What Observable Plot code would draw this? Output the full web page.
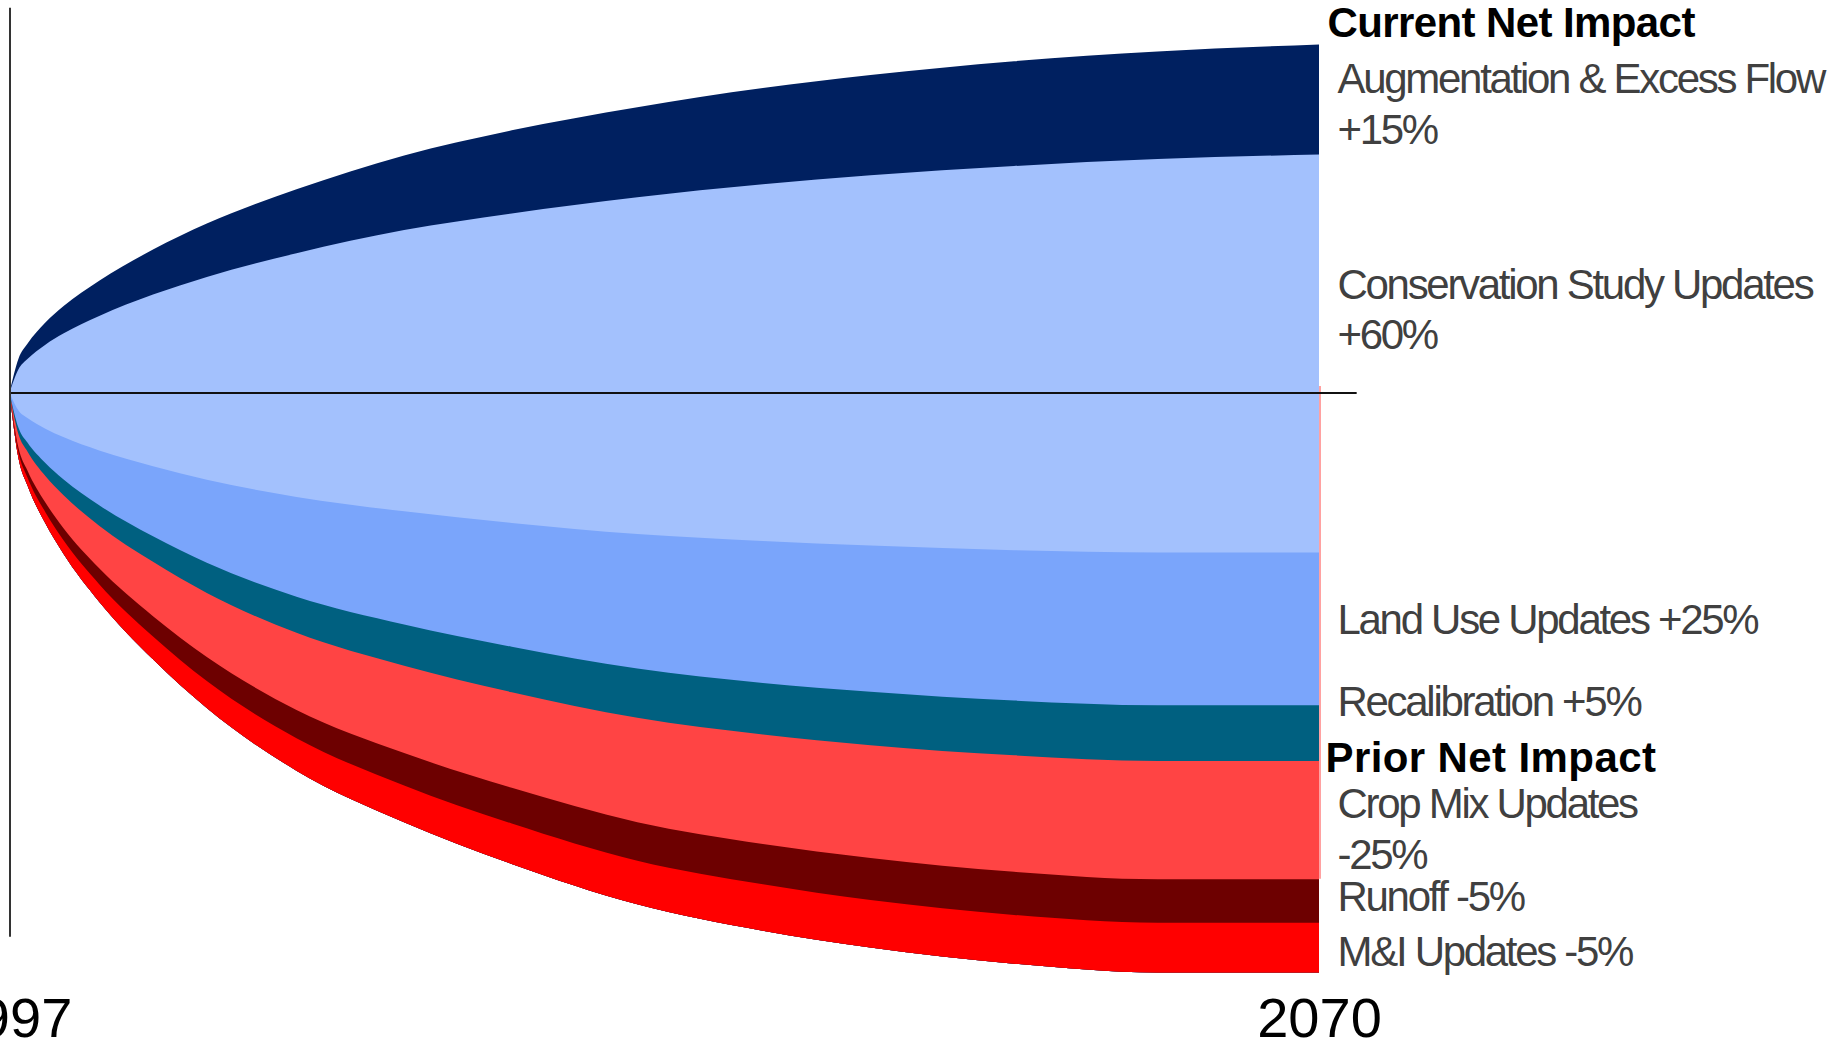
<!DOCTYPE html>
<html>
<head>
<meta charset="utf-8">
<script src="https://cdn.jsdelivr.net/npm/d3@7"></script>
<script src="https://cdn.jsdelivr.net/npm/@observablehq/plot@0.6"></script>
<style>
html, body { margin: 0; padding: 0; background: #fff; overflow: hidden; }
#chart svg { display: block; }
#chart g[font-size="42"] { letter-spacing: -2.3px; }
#chart g[font-size="42"][font-weight="bold"] { letter-spacing: -0.6px; }
</style>
</head>
<body>
<div id="chart"></div>
<script>
// ---- data (percent-like units) ----
const years = [1997, 1997.5, 1998, 1999, 2000, 2002, 2005, 2008, 2013, 2019, 2025, 2032, 2039, 2045, 2053, 2061, 2070];

// upper edge of each layer, from the top layer down, plus the bottom of the stack
const augmentationTop  = [0, 7.3, 10.5, 15.1, 18.6, 24.1, 30.8, 36.4, 43.8, 51.1, 56.5, 61.5, 65.6, 68.4, 71.4, 73.5, 75.0];
const conservationTop  = [0, 5.0, 7.2, 10.3, 12.7, 16.5, 21.1, 24.9, 30.0, 35.0, 38.6, 42.1, 44.9, 46.8, 48.8, 50.3, 51.3];
const landUseTop       = [0, -3.9, -5.5, -7.8, -9.6, -12.5, -15.9, -18.8, -22.5, -25.6, -28.1, -30.5, -32.0, -33.0, -34.0, -34.5, -34.5];
const recalibrationTop = [0, -7.6, -10.8, -15.2, -18.7, -24.3, -31.0, -36.7, -44.0, -50.0, -54.8, -59.5, -62.6, -64.5, -66.4, -67.4, -67.4];
const cropMixTop       = [0, -9.0, -12.7, -18.0, -22.1, -28.7, -36.5, -43.2, -51.8, -58.9, -64.6, -70.1, -73.7, -76.0, -78.2, -79.4, -79.4];
const runoffTop        = [0, -11.9, -16.8, -23.7, -29.2, -37.9, -48.2, -57.0, -68.4, -77.7, -85.2, -92.6, -97.3, -100.3, -103.3, -104.9, -104.9];
const miTop            = [0, -12.9, -18.3, -25.8, -31.8, -41.3, -52.6, -62.2, -74.5, -84.7, -92.9, -100.9, -106.0, -109.4, -112.6, -114.3, -114.3];
const stackBottom      = [0, -14.1, -20.0, -28.2, -34.7, -45.1, -57.5, -68.0, -81.5, -92.6, -101.6, -110.3, -116.0, -119.6, -123.1, -125.0, -125.0];

const seriesNames  = ["Augmentation & Excess Flow", "Conservation Study Updates", "Land Use Updates", "Recalibration", "Crop Mix Updates", "Runoff", "M&I Updates"];
const seriesTops   = [augmentationTop, conservationTop, landUseTop, recalibrationTop, cropMixTop, runoffTop, miTop];
const seriesColors = ["#002060", "#A3C1FD", "#7AA5FB", "#006080", "#FF4444", "#6D0000", "#FF0000"];

const tickYears = [1997, 2070];

// right-hand annotations
const labelLines = [
  {text: "Current Net Impact", y: 76.8, bold: true},
  {text: "Augmentation & Excess Flow", y: 64.6},
  {text: "+15%", y: 53.7},
  {text: "Conservation Study Updates", y: 20.3},
  {text: "+60%", y: 9.5},
  {text: "Land Use Updates +25%", y: -51.9},
  {text: "Recalibration +5%", y: -69.7},
  {text: "Prior Net Impact", y: -81.7, bold: true},
  {text: "Crop Mix Updates", y: -91.6},
  {text: "-25%", y: -102.5},
  {text: "Runoff -5%", y: -111.7},
  {text: "M&I Updates -5%", y: -123.4}
];

// ---- layout ----
const W = 1841, H = 1041;
const k = 4.64, zeroPx = 392.5;
const yDomain = [-140, 85];
const lastYear = years[years.length - 1];

const areaMarks = seriesTops.map((tops, i) => {
  const rows = years.map((year, j) => ({year, top: tops[j], bottom: stackBottom[j], series: seriesNames[i]}));
  return Plot.areaY(rows, {
    x: "year", y1: "bottom", y2: "top",
    fill: seriesColors[i], curve: "monotone-x"
  });
});

const plot = Plot.plot({
  width: W,
  height: H,
  margin: 0,
  x: {domain: [1997, 2070], range: [9.5, 1319], axis: null},
  y: {domain: yDomain, range: [zeroPx - yDomain[0] * k, zeroPx - yDomain[1] * k], axis: null},
  style: {fontFamily: "'Liberation Sans', Arial, sans-serif", background: "#fff"},
  marks: [
    ...areaMarks,
    Plot.ruleX([lastYear], {y1: 1.4, y2: -104.8, stroke: "#FF4444", strokeWidth: 1, dx: 0.5}),
    Plot.ruleY([0], {x1: 1997, x2: 2072.1, stroke: "#111", strokeWidth: 2}),
    Plot.ruleX([1997], {y1: 82.9, y2: -117.3, stroke: "#333", strokeWidth: 2}),
    Plot.text(tickYears, {
      x: d => d, y: () => -138.7, text: d => String(d),
      fontSize: 56, fill: "#000", textAnchor: "middle", lineAnchor: "bottom"
    }),
    Plot.text(labelLines.filter(d => !d.bold), {
      x: () => lastYear, y: "y", text: "text",
      fontSize: 42, fill: "#404040", textAnchor: "start", lineAnchor: "bottom", dx: 18
    }),
    Plot.text(labelLines.filter(d => d.bold), {
      x: () => lastYear, y: "y", text: "text",
      fontSize: 42, fontWeight: "bold", fill: "#000", textAnchor: "start", lineAnchor: "bottom", dx: 8
    })
  ]
});

// "Prior Net Impact" is set a little wider and slightly further left in the reference
d3.select(plot).selectAll("text")
  .filter(function() { return this.textContent === "Prior Net Impact"; })
  .style("letter-spacing", "0.4px")
  .attr("dx", -2);

document.getElementById("chart").appendChild(plot);
</script>
</body>
</html>
